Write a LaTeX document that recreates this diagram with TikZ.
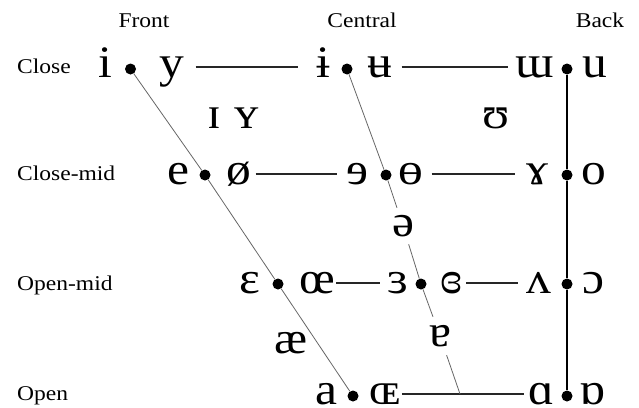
\documentclass[tikz,border=0pt]{standalone}
\usepackage{fontspec}
\newfontfamily\vfont[FakeStretch=1.1]{Liberation Serif}
\newfontfamily\lfont[FakeStretch=1.12]{Liberation Serif}
\tikzset{
  vowel/.style={font=\vfont\fontsize{45}{50}\selectfont, text height=20pt, text depth=0pt, inner xsep=4pt, inner ysep=0pt, anchor=center},
  midvowel/.style={font=\vfont\fontsize{45}{50}\selectfont, text height=20pt, text depth=0pt, inner sep=0pt, minimum height=36pt, minimum width=18pt, anchor=center},
  lbl/.style={font=\lfont\fontsize{21}{24}\selectfont, inner sep=0pt},
  vdot/.style={circle, fill=black, inner sep=0pt, minimum size=11pt},
  hline/.style={draw=black!85, line width=1.4pt},
  diag/.style={draw=black!60, line width=0.8pt},
  backline/.style={draw=black, line width=1.8pt},
}
\begin{document}
\begin{tikzpicture}[x=1pt, y=-1pt]
\useasboundingbox (0,0) rectangle (639,407);
% column headers
\node[lbl, anchor=base] (front) at (144,27) {Front};
\node[lbl, anchor=base] (central) at (362,27) {Central};
\node[lbl, anchor=base] (back) at (600,27) {Back};
% row labels
\node[lbl, anchor=base west] (close) at (17,73) {Close};
\node[lbl, anchor=base west] (closemid) at (17,180) {Close-mid};
\node[lbl, anchor=base west] (openmid) at (17,290) {Open-mid};
\node[lbl, anchor=base west] (open) at (17,400) {Open};
% dots
\node[vdot] (d11) at (130.5,69) {};
\node[vdot] (d12) at (347,69) {};
\node[vdot] (d13) at (567,69) {};
\node[vdot] (d21) at (205,175) {};
\node[vdot] (d22) at (386,175) {};
\node[vdot] (d23) at (567,175) {};
\node[vdot] (d31) at (278,284) {};
\node[vdot] (d32) at (421,284) {};
\node[vdot] (d33) at (567,284) {};
\node[vdot] (d41) at (353,396) {};
\node[vdot] (d43) at (567,396) {};
% close
\node[vowel] (vi) at (105,67) {i};
\node[vowel] (vy) at (172,67) {y};
\node[vowel] (vibar) at (323,67) {ɨ};
\node[vowel] (vubar) at (380,67) {ʉ};
\node[vowel] (vturnm) at (535,67) {ɯ};
\node[vowel] (vu) at (595,67) {u};
% near-close
\node[vowel] (vsmi) at (214,118) {ɪ};
\node[vowel] (vsmy) at (247,118) {ʏ};
\node[vowel] (vups) at (496,118) {ʊ};
% close-mid
\node[vowel] (ve) at (178,174) {e};
\node[vowel] (voslash) at (239,174) {ø};
\node[vowel] (vreve) at (357,174) {ɘ};
\node[vowel] (vbaro) at (411,174) {ɵ};
\node[vowel] (vrams) at (537,174) {ɤ};
\node[vowel] (vo) at (594,174) {o};
% mid
\node[midvowel] (vschwa) at (403,226) {ə};
% open-mid
\node[vowel] (veps) at (250,283) {ɛ};
\node[vowel] (voe) at (317,283) {œ};
\node[vowel] (vreveps) at (398,283) {ɜ};
\node[vowel] (vcreveps) at (451,283) {ɞ};
\node[vowel] (vturnv) at (539,283) {ʌ};
\node[vowel] (vopeno) at (593,283) {ɔ};
% near-open
\node[vowel] (vae) at (291,343) {æ};
\node[midvowel, minimum height=38pt] (vturna) at (440,336) {ɐ};
% open
\node[vowel] (va) at (326,394) {a};
\node[vowel] (vOE) at (385,394) {ɶ};
\node[vowel] (vscripta) at (541,394) {ɑ};
\node[vowel] (vturnscripta) at (592,394) {ɒ};
\coordinate (cend) at (460,394);
% horizontal lines
\draw[hline, shorten <=7pt, shorten >=14pt] (vy.east) -- (vibar.west);
\draw[hline, shorten <=5pt, shorten >=4pt] (vubar.east) -- (vturnm.west);
\draw[hline, shorten >=5pt] (voslash.east) -- (vreve.west);
\draw[hline, shorten <=4pt, shorten >=7pt] (vbaro.east) -- (vrams.west);
\draw[hline, shorten <=-3pt, shorten >=3pt] (voe.east) -- (vreveps.west);
\draw[hline, shorten >=4pt] (vcreveps.east) -- (vturnv.west);
\draw[hline, shorten <=-3pt] (vOE.east) -- (vscripta.west);
% diagonals
\draw[diag] (d11) -- (d21) -- (d31) -- (d41);
\draw[diag] (d12) -- (d22) -- (vschwa) -- (d32) -- (vturna) -- (cend);
\draw[backline] (d13) -- (d23) -- (d33) -- (d43);
\end{tikzpicture}
\end{document}
